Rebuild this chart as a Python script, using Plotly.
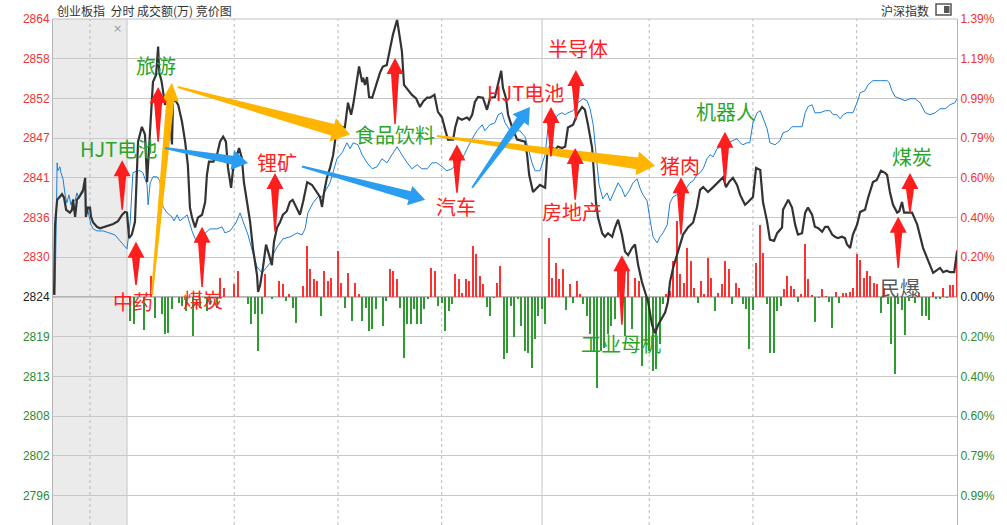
import math
import plotly.graph_objects as go

# ---------------- data ----------------
P0 = 2824.4          # previous close of 创业板指
STEP = 5.6           # grid step in index points

left_labels = ["2796", "2802", "2808", "2813", "2819", "2824", "2830",
               "2836", "2841", "2847", "2852", "2858", "2864"]
right_labels = ["0.99%", "0.79%", "0.60%", "0.40%", "0.20%", "0.00%", "0.20%",
                "0.40%", "0.60%", "0.79%", "0.99%", "1.19%", "1.39%"]
grid_k = list(range(-5, 8))

# 创业板指 price (minutes from 9:30; negative = call-auction area)
idx_t = [-21.1, -20.8, -20.2, -18.8, -18.2, -17.6, -16.5, -15.9, -15.6, -15.0,
         -14.5, -13.6, -12.7, -12.1, -11.9, -11.3, -10.7, -10.4, -9.8, -8.7,
         -7.8, -5.8, -4.0, -2.6, -1.4, -0.6, 0.0,
         0.6, 1.4, 2.3, 2.9, 3.2, 4.3, 5.2, 5.8, 6.1, 6.7,
         7.5, 8.4, 9.0, 9.3, 10.0, 11.0, 11.9, 12.4, 13.0, 13.3,
         13.9, 14.8, 15.9, 16.8, 17.6, 18.2, 18.8, 19.7, 20.5, 21.7,
         22.6, 23.1, 23.7, 25.0, 26.0, 26.9, 27.8, 28.6, 29.2, 30.1,
         30.7, 31.8, 32.4, 33.2, 33.8, 34.7, 35.6, 36.4, 37.6, 37.9,
         38.5, 39.3, 40.2, 40.8, 41.9, 42.5, 43.4, 44.2, 45.1, 46.2,
         47.1, 47.9, 48.6, 50.0, 50.9, 52.1, 53.5, 54.9, 55.8, 56.4,
         57.0, 57.8, 58.7, 59.6, 60.7, 62.1, 63.0, 63.9, 64.8, 65.4,
         66.5, 67.1, 68.0, 68.3, 68.8, 69.4, 70.0, 70.9, 72.3, 73.2,
         74.0, 75.1, 76.1, 76.9, 78.1, 78.9, 79.5, 80.1, 81.3, 82.4,
         83.6, 84.7, 85.7, 86.8, 87.6, 88.9, 89.9, 91.1, 92.0, 92.8,
         94.3, 94.9, 95.7, 96.8, 98.3, 99.0, 99.8, 100.6, 101.5, 102.9,
         104.1, 105.0, 106.4, 107.3, 108.2, 108.7, 109.6, 110.2, 111.3, 112.8,
         114.2, 115.1, 115.7, 116.3, 117.4, 118.6, 119.4, 120.9, 121.5, 122.3,
         123.8, 124.6, 125.7, 126.7, 127.5, 129.0, 130.1, 131.6, 132.4, 133.3,
         134.5, 135.0, 135.6, 136.2, 137.4, 138.2, 139.1, 140.3, 141.1, 142.0,
         143.1, 144.0, 144.9, 146.0, 146.9, 147.8, 148.9, 149.8, 150.7, 151.8,
         152.7, 153.6, 154.7, 155.6, 156.4, 157.0, 157.9, 159.0, 159.9, 160.8,
         162.2, 163.7, 164.8, 165.7, 166.6, 168.0, 169.5, 170.9, 172.4, 173.2,
         174.2, 175.2, 176.4, 177.3, 178.7, 179.6, 181.0, 181.9, 183.1, 183.9,
         185.1, 185.9, 187.1, 188.0, 189.4, 189.7, 191.2, 192.3, 193.2, 194.0,
         195.2, 196.1, 196.9, 198.1, 198.9, 199.9, 201.0, 201.9, 202.7, 203.9,
         204.7, 205.6, 206.7, 207.6, 208.2, 209.1, 209.9, 211.1, 212.0, 213.4,
         214.3, 215.7, 216.8, 218.0, 219.2, 219.8, 220.6, 221.5, 222.7, 223.3,
         224.1, 224.7, 225.9, 227.0, 228.5, 229.3, 230.2, 231.6, 233.1, 234.2,
         235.1, 236.0, 237.0, 238.0, 239.2, 240.0]
idx_price = [2824.7, 2834.6, 2838.1, 2838.9, 2838.4, 2836.7, 2836.3, 2836.7, 2838.1, 2835.7,
             2838.1, 2838.7, 2839.5, 2841.2, 2835.7, 2837.0, 2837.0, 2835.7, 2834.9, 2834.3,
             2834.1, 2834.4, 2834.7, 2835.1, 2836.0, 2836.4, 2836.3,
             2832.7, 2833.2, 2835.0, 2843.0, 2846.3, 2848.4, 2847.3, 2840.6, 2843.0, 2846.8,
             2854.7, 2855.7, 2859.7, 2856.1, 2854.8, 2851.5, 2852.4, 2850.1, 2845.9, 2851.9,
             2852.2, 2851.5, 2849.1, 2846.3, 2843.0, 2837.0, 2835.6, 2834.2, 2835.6, 2836.0,
             2837.8, 2841.6, 2843.5, 2843.5, 2844.4, 2846.3, 2847.0, 2846.3, 2842.6, 2839.8,
             2842.6, 2844.4, 2845.4, 2844.0, 2840.6, 2837.8, 2835.0, 2831.3, 2827.5, 2825.1,
             2826.1, 2828.5, 2831.8, 2830.8, 2828.9, 2832.2, 2834.2, 2834.9, 2836.0, 2836.5,
             2837.8, 2838.1, 2837.4, 2836.0, 2837.8, 2840.6, 2840.2, 2839.2, 2838.5, 2837.1,
             2839.2, 2841.2, 2842.6, 2844.4, 2848.3, 2848.4, 2848.3, 2851.8, 2850.1, 2851.5,
             2855.3, 2856.9, 2854.7, 2855.3, 2854.3, 2855.4, 2852.6, 2852.5, 2854.7, 2856.1,
             2856.9, 2857.1, 2859.5, 2861.4, 2863.5, 2860.9, 2859.0, 2854.3, 2853.6, 2852.9,
             2852.4, 2851.2, 2852.0, 2852.5, 2852.5, 2852.9, 2850.5, 2849.7, 2848.0, 2846.6,
             2846.6, 2848.3, 2849.7, 2849.4, 2849.7, 2849.4, 2850.1, 2851.9, 2852.6, 2852.5,
             2850.8, 2852.5, 2852.6, 2854.3, 2856.3, 2853.9, 2852.4, 2850.1, 2848.4, 2846.6,
             2846.4, 2846.3, 2844.4, 2841.6, 2839.2, 2839.8, 2840.2, 2839.8, 2844.4, 2845.6,
             2845.2, 2845.6, 2845.4, 2845.6, 2848.3, 2848.7, 2850.1, 2851.2, 2850.8, 2848.7,
             2845.4, 2842.0, 2837.8, 2835.6, 2833.4, 2832.9, 2833.4, 2832.9, 2834.2, 2835.3,
             2833.2, 2830.8, 2830.3, 2831.3, 2831.8, 2828.9, 2826.5, 2825.1, 2823.7, 2820.5,
             2819.3, 2820.5, 2821.5, 2822.2, 2823.7, 2826.5, 2828.5, 2830.3, 2831.8, 2833.2,
             2834.2, 2834.9, 2837.0, 2839.5, 2839.9, 2839.2, 2839.9, 2840.6, 2841.3, 2839.9,
             2840.7, 2841.2, 2840.2, 2838.8, 2837.4, 2837.8, 2838.5, 2842.6, 2842.3, 2837.8,
             2835.0, 2832.5, 2832.3, 2833.4, 2834.2, 2836.7, 2838.1, 2837.0, 2834.6, 2833.2,
             2833.4, 2836.3, 2837.0, 2836.0, 2834.3, 2834.1, 2833.6, 2834.3, 2834.3, 2833.2,
             2832.9, 2832.7, 2832.9, 2832.7, 2831.8, 2831.3, 2833.2, 2834.6, 2836.4, 2836.7,
             2838.4, 2840.6, 2840.9, 2842.2, 2841.9, 2841.6, 2839.2, 2837.4, 2836.3, 2836.5,
             2837.8, 2836.3, 2836.3, 2836.3, 2834.6, 2832.9, 2831.3, 2829.6, 2827.8, 2828.2,
             2828.5, 2827.9, 2828.1, 2827.9, 2827.9, 2830.8]

# 沪深指数 change in percent
hs_t = [-20.8, -20.5, -20.2, -20.0, -19.4, -19.1, -18.5, -17.9, -17.4, -16.8,
        -16.2, -15.6, -15.0, -14.5, -13.9, -13.3, -12.7, -12.1, -11.9, -11.3,
        -10.4, -9.8, -8.7, -6.9, -4.9, -3.5, -2.0, -0.6, 0.0,
        0.9, 1.7, 2.9, 3.8, 4.6, 5.8, 6.1, 6.7, 7.5, 8.7,
        9.5, 10.4, 11.6, 13.0, 13.6, 14.5, 15.3, 17.4, 18.8, 20.2,
        22.0, 24.0, 26.0, 27.5, 28.3, 29.8, 31.5, 32.7, 33.5, 35.0,
        36.4, 37.6, 39.0, 40.5, 41.4, 42.2, 43.4, 45.1, 47.1, 49.2,
        50.6, 51.5, 52.3, 53.8, 55.2, 56.4, 57.3, 58.7, 60.7, 62.2,
        63.6, 64.5, 65.4, 66.8, 68.0, 69.4, 70.9, 72.3, 73.7, 75.2,
        76.6, 78.1, 79.5, 81.0, 82.4, 83.9, 85.3, 86.8, 88.2, 89.6,
        91.1, 92.5, 94.0, 95.4, 96.9, 98.3, 99.8, 101.2, 102.7, 103.5,
        104.9, 106.4, 107.3, 108.4, 109.3, 110.8, 113.6, 115.1, 116.0, 117.1,
        118.0, 119.4, 120.9, 121.7, 123.2, 124.6, 125.8, 126.7, 127.5, 129.0,
        130.4, 131.9, 133.0, 133.9, 134.8, 135.9, 136.5, 137.6, 138.8, 139.7,
        140.5, 142.0, 143.1, 144.0, 145.2, 146.3, 147.5, 148.4, 149.2, 150.4,
        151.2, 152.1, 153.3, 154.1, 155.0, 156.2, 157.0, 157.9, 159.0, 159.9,
        160.8, 161.9, 162.8, 163.7, 164.8, 165.7, 166.6, 167.7, 168.6, 169.5,
        170.6, 171.5, 172.9, 173.8, 175.0, 176.4, 177.3, 178.1, 179.3, 180.1,
        181.0, 182.2, 183.1, 183.9, 185.1, 185.9, 187.4, 188.8, 189.7, 191.2,
        192.3, 193.8, 195.2, 196.1, 196.9, 198.1, 198.9, 200.4, 201.9, 203.3,
        204.2, 205.3, 206.2, 207.1, 208.2, 209.9, 211.1, 212.0, 213.4, 214.3,
        215.7, 217.8, 219.8, 220.4, 221.2, 222.1, 223.5, 225.0, 226.4, 227.9,
        229.3, 230.8, 232.2, 233.7, 235.1, 236.6, 238.0, 239.4, 240.0]
hs_pct = [0.01, 0.48, 0.67, 0.63, 0.65, 0.62, 0.59, 0.51, 0.47, 0.51,
          0.46, 0.49, 0.48, 0.52, 0.49, 0.51, 0.52, 0.58, 0.46, 0.43,
          0.36, 0.34, 0.33, 0.33, 0.32, 0.31, 0.28, 0.25, 0.24,
          0.37, 0.62, 0.63, 0.63, 0.62, 0.56, 0.46, 0.57, 0.60, 0.60,
          0.58, 0.45, 0.42, 0.40, 0.38, 0.41, 0.38, 0.41, 0.33, 0.27,
          0.31, 0.34, 0.34, 0.35, 0.32, 0.33, 0.37, 0.42, 0.38, 0.31,
          0.22, 0.15, 0.12, 0.15, 0.17, 0.21, 0.25, 0.29, 0.30, 0.32,
          0.31, 0.34, 0.42, 0.47, 0.50, 0.50, 0.53, 0.57, 0.69, 0.72,
          0.77, 0.74, 0.77, 0.76, 0.71, 0.67, 0.64, 0.65, 0.69, 0.67,
          0.71, 0.75, 0.71, 0.67, 0.64, 0.66, 0.64, 0.64, 0.67, 0.67,
          0.65, 0.63, 0.64, 0.67, 0.69, 0.74, 0.79, 0.83, 0.86, 0.83,
          0.86, 0.87, 0.91, 0.92, 0.87, 0.83, 0.83, 0.80, 0.74, 0.67,
          0.63, 0.63, 0.71, 0.84, 0.87, 0.91, 0.92, 0.91, 0.92, 0.93,
          0.97, 0.99, 0.98, 0.94, 0.86, 0.66, 0.56, 0.49, 0.52, 0.48,
          0.51, 0.57, 0.54, 0.50, 0.53, 0.57, 0.59, 0.54, 0.51, 0.48,
          0.39, 0.30, 0.27, 0.30, 0.32, 0.36, 0.47, 0.50, 0.51, 0.52,
          0.52, 0.55, 0.57, 0.58, 0.61, 0.62, 0.64, 0.69, 0.71, 0.70,
          0.74, 0.75, 0.74, 0.77, 0.78, 0.79, 0.77, 0.76, 0.77, 0.77,
          0.87, 0.92, 0.93, 0.89, 0.84, 0.77, 0.76, 0.78, 0.82, 0.83,
          0.85, 0.85, 0.85, 0.92, 0.95, 0.96, 0.92, 0.92, 0.93, 0.93,
          0.91, 0.91, 0.89, 0.91, 0.92, 0.92, 0.97, 1.02, 1.03, 1.06,
          1.08, 1.08, 1.08, 1.07, 1.03, 1.00, 0.99, 0.98, 0.99, 0.99,
          0.97, 0.92, 0.91, 0.92, 0.94, 0.94, 0.96, 0.97, 0.99]

# 成交额 bars (signed: up minute / down minute)
vol_t = [1, 2, 5, 7, 8, 10, 11, 12, 13, 15,
         16, 17, 19, 21, 23, 24, 26, 27, 28, 31,
         32, 35, 36, 37, 38, 39, 40, 42, 44, 45,
         46, 47, 48, 49, 51, 52, 53, 54, 55, 56,
         57, 58, 59, 61, 62, 63, 64, 65, 66, 67,
         68, 69, 70, 71, 72, 74, 75, 76, 77, 78,
         79, 80, 81, 82, 83, 84, 85, 86, 87, 88,
         89, 90, 91, 92, 93, 94, 95, 96, 97, 98,
         99, 100, 101, 102, 103, 104, 105, 106, 107, 108,
         109, 110, 111, 112, 113, 114, 115, 116, 117, 118,
         119, 120, 121, 122, 123, 124, 125, 126, 127, 128,
         129, 130, 131, 132, 133, 134, 135, 136, 137, 138,
         139, 140, 141, 142, 143, 144, 145, 146, 147, 148,
         149, 150, 151, 152, 153, 154, 155, 156, 157, 158,
         159, 160, 161, 162, 163, 164, 165, 166, 167, 168,
         169, 170, 171, 172, 173, 174, 175, 176, 177, 178,
         179, 180, 181, 182, 183, 184, 185, 186, 187, 188,
         189, 190, 191, 192, 193, 194, 195, 196, 197, 198,
         199, 200, 201, 202, 203, 204, 205, 206, 207, 208,
         209, 210, 211, 212, 213, 214, 215, 216, 217, 218,
         219, 220, 221, 222, 223, 224, 225, 226, 228, 229,
         230, 231, 232, 233, 234, 235, 236, 237, 238, 239,
         240]
vol_v = [-24, -27, -33, 21, -21, -17, -37, -36, -12, -6,
         -9, -14, -39, -11, -14, -7, -11, 19, 9, 13,
         26, -7, -27, -17, -54, -17, 23, -2, 16, 13,
         -4, 3, -11, -26, 11, 51, 28, 18, 16, -19,
         26, 16, 19, 46, 14, -11, 24, -24, 14, 3,
         -24, -11, -34, -32, -12, -29, -4, 28, 26, 18,
         -11, -61, -27, -27, -12, -27, -27, -12, -2, 29,
         26, -9, -6, -34, -14, -7, 23, 18, 4, 18,
         16, 51, 43, 21, 13, -10, -19, -1, 14, 31,
         -62, -56, -9, -40, -2, -29, -54, -56, -71, -42,
         -19, -12, -27, 59, 19, 34, 18, 28, -13, 13,
         -6, 16, 3, -7, -19, -37, -54, -91, -54, -51,
         -37, -29, -22, 29, 34, -39, 26, -32, 19, 16,
         -69, -44, -54, -74, -72, -47, -7, 3, 6, 36,
         76, 23, 14, 49, 36, 9, -6, 16, 3, 39,
         19, -14, 4, 13, 36, 28, -7, 14, 9, -7,
         -12, -52, -13, 34, 72, 44, -7, -56, -56, -14,
         -9, 8, 21, 11, 8, -5, 3, 53, 18, 2,
         -25, -1, 8, 1, -5, -31, 5, -6, 4, 4,
         5, 9, 43, 37, 19, 26, 21, 14, 13, -16,
         9, -7, -47, -77, -7, -13, -38, -4, -6, 4,
         -19, -19, -23, 5, -2, -2, 9, -1, 12, 12,
         47]

# sector labels: (text, minute, price, colour)
labels = [
    ("旅游", 8.4, 2857.1, "green"), ("HJT电池", -2.6, 2845.4, "green"),
    ("中药", 1.7, 2823.7, "red"), ("煤炭", 22.0, 2824.1, "red"),
    ("锂矿", 43.4, 2843.3, "red"), ("食品饮料", 77.5, 2847.3, "green"),
    ("汽车", 95.1, 2837.1, "red"), ("HJT电池", 115.1, 2853.3, "red"),
    ("半导体", 130.4, 2859.5, "red"), ("房地产", 128.7, 2836.5, "red"),
    ("猪肉", 159.9, 2843.0, "red"), ("机器人", 173.2, 2850.5, "green"),
    ("工业母机", 142.9, 2817.9, "green"), ("煤炭", 227.0, 2844.2, "green"),
    ("民爆", 223.5, 2825.8, "gray"),
]
# red up-arrows: (minute, tip price, tail price)
up_arrows = [(-1.4, 2843.7, 2836.7), (2.6, 2832.2, 2826.1), (9.0, 2854.0, 2846.3),
             (21.7, 2834.3, 2825.8), (42.8, 2841.9, 2833.6), (77.5, 2858.1, 2848.8),
             (95.4, 2845.9, 2839.1), (122.6, 2851.2, 2844.2), (129.8, 2856.4, 2849.4),
             (129.6, 2845.4, 2838.1), (143.1, 2830.3, 2820.5), (160.2, 2841.3, 2833.2),
             (172.9, 2847.7, 2840.5), (223.0, 2835.7, 2828.5), (226.4, 2841.9, 2836.3)]
# rotation arrows: (from minute, from price, to minute, to price, colour)
flow_arrows = [(7.2, 2824.7, 13.0, 2854.6, "yellow"), (14.7, 2854.0, 64.5, 2847.3, "yellow"),
               (89.6, 2847.1, 152.7, 2842.9, "yellow"), (11.0, 2845.4, 35.0, 2843.3, "blue"),
               (50.6, 2842.8, 86.2, 2838.1, "blue"), (99.8, 2839.8, 116.5, 2851.2, "blue")]

# ---------------- layout geometry ----------------
W, H = 1007, 525
ML, MR, MT, MB = 53, 50, 19, 0
PW, PH = W - ML - MR, H - MT - MB
XMIN, XMAX = -21.4, 240.0
YMAX = P0 + 7 * STEP
YMIN = YMAX - (YMAX - P0) * PH / 278.0
PCT_MIN, PCT_MAX = (YMIN / P0 - 1) * 100, (YMAX / P0 - 1) * 100
VOL_MAX = 278.0
VOL_MIN = VOL_MAX - PH

RED, GREEN, DARK = "#ee3333", "#2e8b2e", "#222222"
TEXT_COL = {"red": "#ff2222", "green": "#2aa52a", "gray": "#5a5a5a"}
FLOW_COL = {"yellow": "#ffb400", "blue": "#2a9df0"}


def to_px(m, p):
    return (ML + (m - XMIN) / (XMAX - XMIN) * PW, MT + (YMAX - p) / (YMAX - YMIN) * PH)


def to_data(x, y):
    return (XMIN + (x - ML) / PW * (XMAX - XMIN), YMAX - (y - MT) / PH * (YMAX - YMIN))


def paper(x, y):
    # page pixel -> paper coordinates
    return ((x - ML) / PW, (H - MB - y) / PH)


def arrow_path(m0, p0, m1, p1, w0, w1, hw, hl):
    x0, y0 = to_px(m0, p0)
    x1, y1 = to_px(m1, p1)
    L = math.hypot(x1 - x0, y1 - y0)
    dx, dy = (x1 - x0) / L, (y1 - y0) / L
    nx, ny = -dy, dx
    bx, by = x1 - dx * hl, y1 - dy * hl
    pts = [(x0 + nx * w0 / 2, y0 + ny * w0 / 2), (bx + nx * w1 / 2, by + ny * w1 / 2),
           (bx + nx * hw / 2, by + ny * hw / 2), (x1, y1),
           (bx - nx * hw / 2, by - ny * hw / 2), (bx - nx * w1 / 2, by - ny * w1 / 2),
           (x0 - nx * w0 / 2, y0 - ny * w0 / 2)]
    d = [to_data(*p) for p in pts]
    return "M " + " L ".join(f"{a:.4f},{b:.4f}" for a, b in d) + " Z"


def tick_color(k):
    return RED if k > 0 else (DARK if k == 0 else GREEN)


left_vals = [P0 + k * STEP for k in grid_k]
left_text = [f'<span style="color:{tick_color(k)}">{s}</span>' for k, s in zip(grid_k, left_labels)]
right_vals = [k * STEP / P0 * 100 for k in grid_k]
right_text = [f'<span style="color:{tick_color(k)}">{s}</span>' for k, s in zip(grid_k, right_labels)]

fig = go.Figure()
fig.add_trace(go.Bar(x=vol_t, y=vol_v, yaxis="y", width=0.32,
                     marker=dict(color=["#ff3030" if v > 0 else "#2f9a2f" for v in vol_v], line_width=0),
                     hoverinfo="skip"))
fig.add_trace(go.Scatter(x=hs_t, y=hs_pct, yaxis="y2", mode="lines",
                         line=dict(color="#1e7fd8", width=1), hoverinfo="skip"))
fig.add_trace(go.Scatter(x=idx_t, y=idx_price, yaxis="y3", mode="lines",
                         line=dict(color="#333333", width=2.2), hoverinfo="skip"))

shapes = []
shapes.append(dict(type="rect", xref="x", yref="paper", x0=XMIN, x1=0, y0=0, y1=1,
                   fillcolor="#ebebeb", line_width=0, layer="below"))
for t in [-10.7, 31, 61, 91, 151, 181, 211]:
    shapes.append(dict(type="line", xref="x", yref="paper", x0=t, x1=t, y0=0, y1=1,
                       line=dict(color="#b8b8b8", width=1, dash="dot"), layer="between"))
for t in [0, 120]:
    shapes.append(dict(type="line", xref="x", yref="paper", x0=t, x1=t, y0=0, y1=1,
                       line=dict(color="#c4c4c4", width=1), layer="between"))
shapes.append(dict(type="line", xref="paper", yref="y3", x0=0, x1=1, y0=P0, y1=P0,
                   line=dict(color="#b4b4b4", width=2), layer="between"))
shapes.append(dict(type="line", xref="paper", yref="paper", x0=0, x1=1, y0=1, y1=1,
                   line=dict(color="#c0c0c0", width=1), layer="above"))
for m0, p0, m1, p1, c in flow_arrows:
    if c == "yellow" and abs(m1 - m0) < 10:
        path = arrow_path(m0, p0, m1, p1, 2, 8, 17, 18)
    elif c == "yellow":
        path = arrow_path(m0, p0, m1, p1, 2, 12, 24, 18)
    else:
        path = arrow_path(m0, p0, m1, p1, 2, 9, 20, 16)
    shapes.append(dict(type="path", xref="x", yref="y3", path=path,
                       fillcolor=FLOW_COL[c], line_width=0, layer="above"))
for m, tip, tail in up_arrows:
    shapes.append(dict(type="path", xref="x", yref="y3",
                       path=arrow_path(m, tail, m, tip, 1.5, 8, 17, 16),
                       fillcolor="#ff1e1e", line_width=0, layer="above"))
# header icon
ix0, iy0 = paper(936, 4)
ix1, iy1 = paper(951, 15)
ixm, _ = paper(944, 4)
ixe, _ = paper(949.5, 4)
_, iyt = paper(0, 6)
_, iyb = paper(0, 13)
shapes.append(dict(type="rect", xref="paper", yref="paper", x0=ix0, x1=ix1, y0=iy1, y1=iy0,
                   line=dict(color="#555555", width=1.5), fillcolor="white", layer="above"))
shapes.append(dict(type="rect", xref="paper", yref="paper", x0=ixm, x1=ixe, y0=iyb, y1=iyt,
                   line_width=0, fillcolor="#555555", layer="above"))

annotations = []
for text, m, p, c in labels:
    annotations.append(dict(x=m, y=p, xref="x", yref="y3", text=text, showarrow=False,
                            font=dict(family="Noto Sans CJK SC", size=20, color=TEXT_COL[c]),
                            xanchor="center", yanchor="middle"))
hx, hy = paper(55, 10)
annotations.append(dict(x=hx, y=hy, xref="paper", yref="paper", text="创业板指  分时 成交额(万) 竞价图",
                        showarrow=False, xanchor="left", yanchor="middle",
                        font=dict(family="Noto Sans CJK SC", size=12, color="#333333")))
sx, sy = paper(931, 10)
annotations.append(dict(x=sx, y=sy, xref="paper", yref="paper", text="沪深指数",
                        showarrow=False, xanchor="right", yanchor="middle",
                        font=dict(family="Noto Sans CJK SC", size=12, color="#333333")))
cx, cy = paper(117, 28)
annotations.append(dict(x=cx, y=cy, xref="paper", yref="paper", text="×", showarrow=False,
                        xanchor="center", yanchor="middle",
                        font=dict(family="DejaVu Sans", size=11, color="#9a9a9a")))

tickfont = dict(family="Liberation Sans", size=12)
fig.update_layout(
    width=W, height=H, margin=dict(l=ML, r=MR, t=MT, b=MB, pad=0, autoexpand=False),
    paper_bgcolor="white", plot_bgcolor="white", showlegend=False, bargap=0,
    xaxis=dict(range=[XMIN, XMAX], showgrid=False, zeroline=False, showticklabels=False,
               showline=False, fixedrange=True),
    yaxis=dict(range=[VOL_MIN, VOL_MAX], visible=False, fixedrange=True),
    yaxis2=dict(range=[PCT_MIN, PCT_MAX], overlaying="y", side="right", tickvals=right_vals,
                ticktext=right_text, showgrid=False, zeroline=False, showline=True,
                linecolor="#b4b4b4", linewidth=1, ticks="", tickfont=tickfont, fixedrange=True),
    yaxis3=dict(range=[YMIN, YMAX], overlaying="y", side="left", tickvals=left_vals,
                ticktext=left_text, showgrid=True, gridcolor="#c8c8c8", gridwidth=1,
                zeroline=False, showline=True, linecolor="#b4b4b4", linewidth=1, ticks="",
                tickfont=tickfont, fixedrange=True),
    shapes=shapes, annotations=annotations,
)
fig.write_html("out.html", config={"displayModeBar": False},
               post_script="document.body.style.margin='0';document.body.style.overflow='hidden';")
